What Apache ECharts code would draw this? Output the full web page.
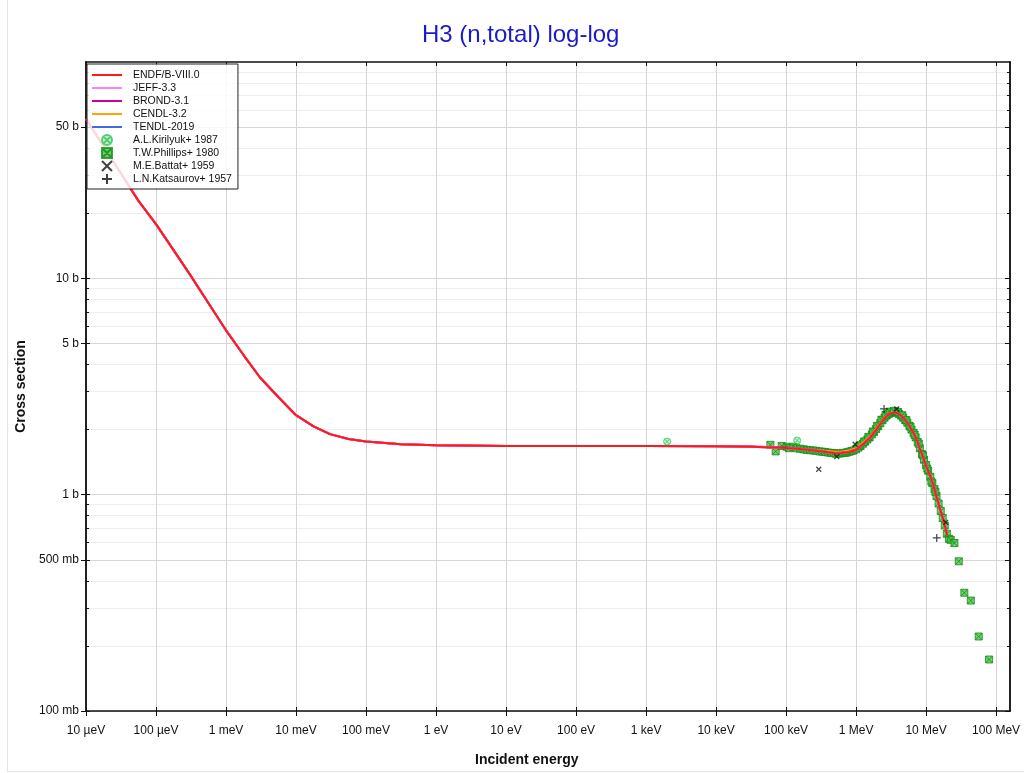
<!DOCTYPE html>
<html><head><meta charset="utf-8">
<script src="https://cdn.jsdelivr.net/npm/echarts@6/dist/echarts.min.js"></script>
<style>html,body{margin:0;padding:0;background:#fff}#c{width:1024px;height:773px}</style>
</head><body><div id="c"></div>
<script>
// ---- axis ticks ----
const X_TICK_VALUES = [1e-5,1e-4,1e-3,1e-2,1e-1,1,10,100,1e3,1e4,1e5,1e6,1e7,1e8];
const X_TICK_LABELS = ['10 µeV','100 µeV','1 meV','10 meV','100 meV','1 eV','10 eV','100 eV','1 keV','10 keV','100 keV','1 MeV','10 MeV','100 MeV'];
const Y_TICK_VALUES = [0.1,0.5,1,5,10,50];
const Y_TICK_LABELS = ['100 mb','500 mb','1 b','5 b','10 b','50 b'];
const Y_MINOR_VALUES = [0.2,0.3,0.4,0.6,0.7,0.8,0.9,2,3,4,6,7,8,9,20,30,40,60,70,80,90];
const X_RANGE = [1e-5, 1.58e8];
const Y_RANGE = [0.1, 100];

// ---- evaluated data (energy in eV, cross section in b) ----
const EVAL_ENERGY = [1e-5,1.78e-5,3.16e-5,5.62e-5,1e-4,1.78e-4,3.06e-4,5.62e-4,1e-3,1.78e-3,3.06e-3,5.62e-3,
  1e-2,1.78e-2,3.06e-2,5.62e-2,0.1,0.316,1,10,100,1e3,1e4,3.16e4,
  1e5,1.58e5,2.51e5,3.16e5,3.98e5,5.01e5,6.31e5,7.94e5,1e6,1.26e6,1.58e6,2e6,2.51e6,2.82e6,3.16e6,3.55e6,3.98e6,
  4.47e6,5.01e6,5.62e6,6.31e6,7.08e6,7.94e6,8.91e6,1e7,1.12e7,1.26e7,1.41e7,1.58e7,1.78e7,2e7];
const ENDF_XS = [54.6,40.8,30.5,22.8,17.8,13.5,10.4,7.67,5.75,4.42,3.48,2.82,
  2.33,2.07,1.905,1.81,1.76,1.71,1.69,1.68,1.68,1.68,1.675,1.665,
  1.645,1.625,1.60,1.585,1.57,1.555,1.56,1.575,1.61,1.71,1.83,2.02,2.25,2.33,2.38,2.40,2.37,
  2.31,2.22,2.11,1.98,1.85,1.67,1.51,1.36,1.24,1.12,0.975,0.86,0.76,0.65];
const JEFF_XS = [54.6,40.8,30.5,22.8,17.8,13.5,10.4,7.67,5.75,4.42,3.48,2.82,
  2.33,2.07,1.905,1.81,1.76,1.71,1.69,1.68,1.68,1.68,1.675,1.665,
  1.645,1.625,1.60,1.585,1.57,1.555,1.56,1.575,1.61,1.71,1.83,2.02,2.25,2.33,2.38,2.40,2.37,
  2.31,2.22,2.11,1.98,1.85,1.67,1.51,1.36,1.24,1.12,0.975,0.86,0.76,0.65];
const BROND_XS = [54.6,40.8,30.5,22.8,17.8,13.5,10.4,7.67,5.75,4.42,3.48,2.82,
  2.33,2.07,1.905,1.81,1.76,1.71,1.69,1.68,1.68,1.68,1.675,1.67,
  1.65,1.63,1.605,1.59,1.575,1.56,1.565,1.58,1.62,1.72,1.84,2.03,2.25,2.33,2.38,2.40,2.37,
  2.31,2.22,2.11,1.98,1.85,1.67,1.51,1.36,1.24,1.12,0.975,0.86,0.76,0.65];
const CENDL_XS = [54.6,40.8,30.5,22.8,17.8,13.5,10.4,7.67,5.75,4.42,3.48,2.82,
  2.33,2.07,1.905,1.81,1.76,1.71,1.69,1.68,1.68,1.68,1.675,1.665,
  1.645,1.63,1.61,1.60,1.59,1.58,1.585,1.60,1.64,1.74,1.86,2.05,2.27,2.34,2.39,2.40,2.37,
  2.31,2.22,2.11,1.98,1.85,1.67,1.51,1.36,1.24,1.12,0.975,0.86,0.76,0.65];
const TENDL_XS = [54.6,40.8,30.5,22.8,17.8,13.5,10.4,7.67,5.75,4.42,3.48,2.82,
  2.33,2.07,1.905,1.81,1.76,1.71,1.69,1.68,1.68,1.68,1.675,1.665,
  1.645,1.625,1.60,1.585,1.57,1.555,1.56,1.575,1.61,1.71,1.83,2.02,2.25,2.33,2.38,2.40,2.37,
  2.31,2.22,2.11,1.98,1.85,1.67,1.51,1.36,1.24,1.12,0.975,0.86,0.76,0.65];

// ---- experimental data ----
const KIRILYUK_E = [2.0e3, 1.44e5];
const KIRILYUK_XS = [1.76, 1.78];
const PHILLIPS_E = [5.97e4,7.10e4,8.67e4,1.02e5,1.10e5,1.27e5,1.40e5,1.58e5,1.78e5,1.98e5,2.20e5,2.45e5,2.70e5,3.00e5,
  3.30e5,3.60e5,4.00e5,4.40e5,4.80e5,5.20e5,5.60e5,6.00e5,6.50e5,7.00e5,7.50e5,8.00e5,8.60e5,9.20e5,1.00e6,1.08e6,
  1.16e6,1.25e6,1.35e6,1.45e6,1.56e6,1.68e6,1.80e6,1.93e6,2.07e6,2.22e6,2.38e6,2.55e6,2.73e6,2.92e6,3.13e6,3.35e6,
  3.59e6,3.84e6,4.11e6,4.40e6,4.71e6,5.04e6,5.40e6,5.78e6,6.19e6,6.63e6,7.10e6,7.60e6,8.14e6,8.72e6,9.34e6,1.00e7,
  1.07e7,1.15e7,1.23e7,1.32e7,1.41e7,1.51e7,1.62e7,1.73e7,1.85e7,1.98e7,2.12e7,2.25e7,2.54e7,2.93e7,3.52e7,4.35e7,5.65e7,7.94e7,
  1.12e6,1.30e6,1.50e6,1.74e6,2.00e6,2.30e6,2.64e6,3.02e6,3.47e6,3.98e6,4.56e6,5.22e6,5.98e6,6.86e6,7.87e6,9.02e6,1.04e7,1.19e7,1.36e7];
const PHILLIPS_XS = [1.70,1.585,1.68,1.665,1.64,1.665,1.64,1.63,1.62,1.61,1.605,1.60,1.595,1.585,
  1.58,1.575,1.565,1.56,1.555,1.545,1.55,1.55,1.56,1.56,1.57,1.58,1.59,1.60,1.62,1.65,
  1.68,1.72,1.76,1.80,1.84,1.90,1.95,2.01,2.07,2.14,2.21,2.27,2.32,2.36,2.39,2.41,
  2.41,2.39,2.36,2.32,2.27,2.21,2.15,2.08,2.00,1.93,1.84,1.75,1.64,1.54,1.45,1.37,
  1.29,1.21,1.13,1.06,0.985,0.91,0.84,0.78,0.72,0.66,0.625,0.618,0.598,0.492,0.352,0.324,0.221,0.173,
  1.69,1.76,1.85,1.96,2.08,2.22,2.34,2.42,2.44,2.41,2.33,2.21,2.06,1.89,1.72,1.52,1.32,1.15,1.03];
const BATTAT_E = [2.93e5, 5.30e5, 9.70e5, 3.81e6, 1.91e7];
const BATTAT_XS = [1.31, 1.50, 1.71, 2.49, 0.745];
const KATSAUROV_E = [2.51e6, 1.42e7];
const KATSAUROV_XS = [2.49, 0.631];

// ---- helpers ----
const L = Math.log10;
const toXY = (E, S) => E.map((e, i) => [L(e), L(S[i])]);
const FONT = 'Liberation Sans, Arial, sans-serif';
const lx = X_TICK_VALUES.map(L), ly = Y_TICK_VALUES.map(L), lym = Y_MINOR_VALUES.map(L);
const xFmt = v => { const i = lx.findIndex(t => Math.abs(t - v) < 1e-6); return i < 0 ? '' : X_TICK_LABELS[i]; };
const yFmt = v => { const i = ly.findIndex(t => Math.abs(t - v) < 1e-6); return i < 0 ? '' : Y_TICK_LABELS[i]; };

const SYM_CIRCLE_X = 'path://M0,5A5,5,0,1,1,10,5A5,5,0,1,1,0,5ZM1.6,1.6L8.4,8.4M8.4,1.6L1.6,8.4';
const SYM_SQUARE_X = 'path://M0,0L10,0L10,10L0,10ZM0,0L10,10M10,0L0,10';
const SYM_X = 'path://M0,0L10,10M10,0L0,10';
const SYM_PLUS = 'path://M5,0L5,10M0,5L10,5';
const LINE_ICON = 'path://M0,0L30,0L30,2L0,2Z';

const xMin = L(X_RANGE[0]), xMax = L(X_RANGE[1]), yMin = L(Y_RANGE[0]), yMax = L(Y_RANGE[1]);
const baseX = {type:'value', min:xMin, max:xMax, gridIndex:0};
const baseY = {type:'value', min:yMin, max:yMax, gridIndex:0};
const off = {show:false};
const noLine = {show:false, onZero:false};

function lineSeries(name, xs, color, z) {
  return {name, type:'line', data: toXY(EVAL_ENERGY, xs), symbol:'none', smooth:false,
    lineStyle:{color, width:2}, itemStyle:{color}, z, xAxisIndex:0, yAxisIndex:0, silent:true};
}
function scatterSeries(name, E, S, symbol, size, itemStyle, z) {
  return {name, type:'scatter', data: toXY(E, S), symbol, symbolSize:size, symbolKeepAspect:true,
    itemStyle, z, xAxisIndex:0, yAxisIndex:0, silent:true};
}

const chart = echarts.init(document.getElementById('c'), null, {renderer:'canvas'});
chart.setOption({
  animation:false,
  backgroundColor:'#fff',
  title:[
    {text:'H3 (n,total) log-log', left:417, top:18, textStyle:{color:'#1a1acc', fontSize:24, fontWeight:'normal', fontFamily:FONT}},
    {text:'Incident energy', left:470, top:748, textStyle:{color:'#111', fontSize:14, fontWeight:'bold', fontFamily:FONT}}
  ],
  grid:{left:86, right:14, top:62, bottom:62, containLabel:false},
  graphic:[{type:'polyline', silent:true, shape:{points:[[7.5,0],[7.5,771.5],[1024,771.5]]}, style:{fill:null, stroke:'#e4e4e4', lineWidth:1}}],
  legend:{
    orient:'vertical', left:87, top:64, itemWidth:30, itemHeight:10, itemGap:1,
    padding:[5,6,4,5], backgroundColor:'rgba(255,255,255,0.82)', borderColor:'#222', borderWidth:1,
    textStyle:{fontSize:10.5, lineHeight:12, color:'#111', fontFamily:FONT, padding:[0,0,0,6]},
    data:[
      {name:'ENDF/B-VIII.0', icon:LINE_ICON},
      {name:'JEFF-3.3', icon:LINE_ICON},
      {name:'BROND-3.1', icon:LINE_ICON},
      {name:'CENDL-3.2', icon:LINE_ICON},
      {name:'TENDL-2019', icon:LINE_ICON},
      'A.L.Kirilyuk+ 1987','T.W.Phillips+ 1980','M.E.Battat+ 1959','L.N.Katsaurov+ 1957']
  },
  xAxis:[
    Object.assign({}, baseX, {position:'bottom',
      axisLine:{show:true, onZero:false, lineStyle:{color:'#111', width:1.5}},
      axisTick:{show:true, inside:false, length:5, customValues:lx, lineStyle:{color:'#111'}},
      axisLabel:{show:true, customValues:lx, formatter:xFmt, margin:14, fontSize:12, color:'#111', fontFamily:FONT},
      splitLine:{show:true, lineStyle:{color:'#d6d6d6', width:1}}}),
    Object.assign({}, baseX, {position:'bottom', axisLine:noLine,
      axisTick:{show:true, inside:true, length:4, customValues:lx, lineStyle:{color:'#111'}},
      axisLabel:off, splitLine:off}),
    Object.assign({}, baseX, {position:'top',
      axisLine:{show:true, onZero:false, lineStyle:{color:'#111', width:1.5}},
      axisTick:{show:true, inside:true, length:4, customValues:lx, lineStyle:{color:'#111'}},
      axisLabel:off, splitLine:off})
  ],
  yAxis:[
    Object.assign({}, baseY, {position:'left',
      name:'Cross section', nameLocation:'middle', nameRotate:90, nameGap:49,
      nameTextStyle:{fontSize:14, fontWeight:'bold', color:'#111', fontFamily:FONT},
      axisLine:{show:true, onZero:false, lineStyle:{color:'#222', width:2}},
      axisTick:{show:true, inside:false, length:5, customValues:ly, lineStyle:{color:'#111'}},
      axisLabel:{show:true, customValues:ly, formatter:yFmt, margin:7, fontSize:12, color:'#111', fontFamily:FONT},
      splitLine:{show:true, lineStyle:{color:'#d6d6d6', width:1}}}),
    Object.assign({}, baseY, {position:'left', axisLine:noLine,
      axisTick:{show:true, inside:true, length:4, customValues:ly, lineStyle:{color:'#111'}},
      axisLabel:off, splitLine:off}),
    Object.assign({}, baseY, {position:'left', axisLine:noLine,
      axisTick:{show:true, inside:true, length:3, customValues:lym, lineStyle:{color:'#111'}},
      axisLabel:off, splitLine:{show:true, lineStyle:{color:'#ededed', width:1}}}),
    Object.assign({}, baseY, {position:'right',
      axisLine:{show:true, onZero:false, lineStyle:{color:'#222', width:2}},
      axisTick:{show:true, inside:true, length:5, customValues:ly, lineStyle:{color:'#111'}},
      axisLabel:off, splitLine:off}),
    Object.assign({}, baseY, {position:'right', axisLine:noLine,
      axisTick:{show:true, inside:true, length:3, customValues:lym, lineStyle:{color:'#111'}},
      axisLabel:off, splitLine:off})
  ],
  series:[
    scatterSeries('T.W.Phillips+ 1980', PHILLIPS_E, PHILLIPS_XS, SYM_SQUARE_X, 7,
      {color:'#52c252', borderColor:'#0f8f0f', borderWidth:1}, 1),
    lineSeries('TENDL-2019', TENDL_XS, '#4169e1', 2),
    lineSeries('CENDL-3.2', CENDL_XS, '#ffa500', 2),
    lineSeries('BROND-3.1', BROND_XS, '#cc0099', 2),
    lineSeries('JEFF-3.3', JEFF_XS, '#ff80ff', 2),
    lineSeries('ENDF/B-VIII.0', ENDF_XS, '#ff1a1a', 2),
    scatterSeries('A.L.Kirilyuk+ 1987', KIRILYUK_E, KIRILYUK_XS, SYM_CIRCLE_X, 7,
      {color:'rgba(140,230,160,0.6)', borderColor:'#2bc45a', borderWidth:1}, 3),
    scatterSeries('M.E.Battat+ 1959', BATTAT_E, BATTAT_XS, SYM_X, 5,
      {color:'rgba(0,0,0,0)', borderColor:'#111', borderWidth:1.2}, 4),
    scatterSeries('L.N.Katsaurov+ 1957', KATSAUROV_E, KATSAUROV_XS, SYM_PLUS, 8,
      {color:'rgba(0,0,0,0)', borderColor:'#111', borderWidth:1.2}, 4)
  ]
});
</script></body></html>
